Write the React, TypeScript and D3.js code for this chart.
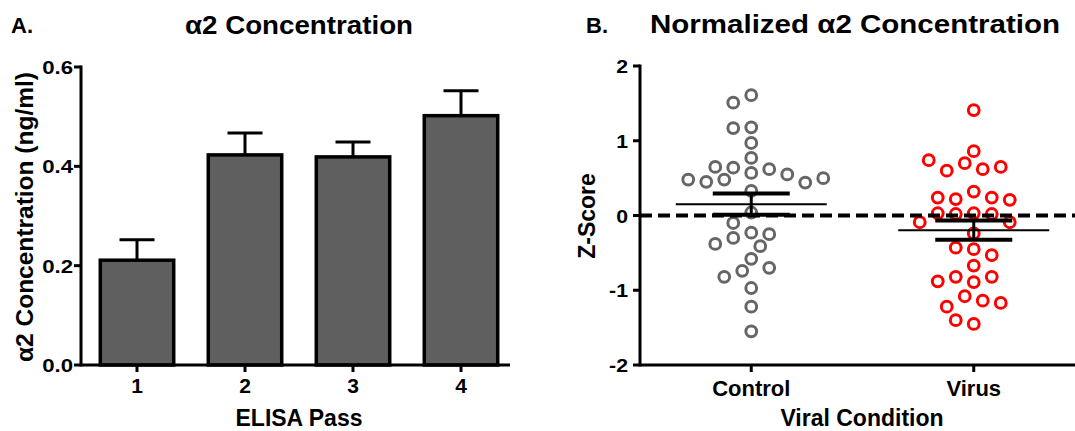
import React from "react";
import * as d3 from "d3";

// ---------- Data ----------
const passes = ["1", "2", "3", "4"];
const passMeans = [0.211, 0.423, 0.419, 0.502];
const passErr = [0.041, 0.044, 0.030, 0.050];
const concTicks = [0.0, 0.2, 0.4, 0.6];

const groups = ["Control", "Virus"];
const controlZ = [
  1.61, 1.51, 1.18, 1.17, 0.97, 0.77, 0.64, 0.62, 0.65, 0.57, 0.55, 0.48, 0.45,
  0.44, 0.48, 0.5, 0.33, 0.04, -0.1, -0.23, -0.3, -0.25, -0.41, -0.38, -0.58,
  -0.74, -0.7, -0.82, -0.97, -1.22, -1.55,
];
const virusZ = [
  1.41, 0.86, 0.7, 0.62, 0.6, 0.65, 0.74, 0.32, 0.22, 0.24, 0.24, 0.21, 0.03,
  0.02, 0.02, 0.03, -0.09, -0.09, -0.24, -0.45, -0.43, -0.53, -0.67, -0.82,
  -0.82, -0.89, -0.88, -1.08, -1.14, -1.22, -1.17, -1.45, -1.4,
];
const zTicks = [2, 1, 0, -1, -2];

const FONT = "'Liberation Sans', Arial, Helvetica, sans-serif";
const groupColors = ["#666666", "#ff0000"];

function swarm(values: number[], y: (v: number) => number, step = 9, minDist = 14.5) {
  const placed: { x: number; y: number }[] = [];
  return values.map((v) => {
    const yy = y(v);
    for (let k = 0; k < 40; k++) {
      const offs = k === 0 ? [0] : [-k * step, k * step];
      for (const o of offs) {
        if (placed.every((p) => Math.hypot(p.x - o, p.y - yy) >= minDist)) {
          const pt = { x: o, y: yy };
          placed.push(pt);
          return pt;
        }
      }
    }
    return { x: 0, y: yy };
  });
}

export default function App() {
  // ----- Panel A scales -----
  const xA = d3.scaleBand<string>().domain(passes).range([83, 515]).paddingInner(0.32).paddingOuter(0.16);
  const yA = d3.scaleLinear().domain([0, 0.6]).range([365, 67]);
  const axisA = { x0: 81, x1: 510 };

  // ----- Panel B scales -----
  const xB = d3.scalePoint<string>().domain(groups).range([640, 1085]).padding(0.5);
  const yB = d3.scaleLinear().domain([-2, 2]).range([365, 66]);
  const dataB = [controlZ, virusZ];

  const stats = dataB.map((arr) => {
    const m = d3.mean(arr) as number;
    const sd = d3.deviation(arr) as number;
    return { mean: m, sem: sd / Math.sqrt(arr.length) };
  });

  const bw = xA.bandwidth();

  return (
    <svg
      width={1075}
      height={431}
      style={{ position: "absolute", left: 0, top: 0, background: "#fff" }}
      fontFamily={FONT}
      fontWeight="bold"
    >
      {/* ================= Panel A ================= */}
      <text x={11} y={33} fontSize={22}>A.</text>
      <text x={299} y={34} fontSize={26} textAnchor="middle" textLength={228} lengthAdjust="spacingAndGlyphs">
        α2 Concentration
      </text>

      {passes.map((p, i) => {
        const x = xA(p) as number;
        const cx = x + bw / 2;
        const top = yA(passMeans[i]);
        const et = yA(passMeans[i] + passErr[i]);
        return (
          <g key={p}>
            <line x1={cx} x2={cx} y1={top} y2={et} stroke="#000" strokeWidth={3} />
            <line x1={cx - 17.5} x2={cx + 17.5} y1={et} y2={et} stroke="#000" strokeWidth={3} />
            <rect
              x={x}
              y={top}
              width={bw}
              height={yA(0) - top}
              fill="#5f5f5f"
              stroke="#000"
              strokeWidth={3.5}
            />
          </g>
        );
      })}

      {/* y axis A */}
      <line x1={axisA.x0} x2={axisA.x0} y1={yA(0.6) - 1.5} y2={yA(0) + 1.5} stroke="#000" strokeWidth={3} />
      {concTicks.map((t) => (
        <g key={t}>
          <line x1={axisA.x0 - 7} x2={axisA.x0} y1={yA(t)} y2={yA(t)} stroke="#000" strokeWidth={3} />
          <text
            transform={`translate(${axisA.x0 - 8},${yA(t) + 7}) scale(1.2,1)`}
            fontSize={18.5}
            textAnchor="end"
          >
            {d3.format(".1f")(t)}
          </text>
        </g>
      ))}
      {/* x axis A */}
      <line x1={axisA.x0} x2={axisA.x1} y1={yA(0)} y2={yA(0)} stroke="#000" strokeWidth={3} />
      {passes.map((p) => {
        const cx = (xA(p) as number) + bw / 2;
        return (
          <g key={p}>
            <line x1={cx} x2={cx} y1={yA(0)} y2={yA(0) + 7} stroke="#000" strokeWidth={3} />
            <text x={cx} y={393} fontSize={21} textAnchor="middle">{p}</text>
          </g>
        );
      })}
      <text x={299} y={426} fontSize={23} textAnchor="middle">ELISA Pass</text>
      <text transform="translate(33,217) rotate(-90)" fontSize={23} textAnchor="middle" textLength={290} lengthAdjust="spacingAndGlyphs">
        α2 Concentration (ng/ml)
      </text>

      {/* ================= Panel B ================= */}
      <text x={586} y={33} fontSize={22}>B.</text>
      <text x={855} y={33} fontSize={26} textAnchor="middle" textLength={410} lengthAdjust="spacingAndGlyphs">
        Normalized α2 Concentration
      </text>

      {/* points */}
      {dataB.map((arr, gi) => {
        const cx = xB(groups[gi]) as number;
        const pts = swarm(arr, (v) => yB(v));
        return (
          <g key={gi}>
            {pts.map((p, i) => (
              <circle
                key={i}
                cx={cx + p.x}
                cy={p.y}
                r={5.4}
                fill="none"
                stroke={groupColors[gi]}
                strokeWidth={3}
              />
            ))}
          </g>
        );
      })}

      {/* dashed zero line */}
      <line x1={640} x2={1075} y1={yB(0)} y2={yB(0)} stroke="#000" strokeWidth={4} strokeDasharray="12,6" />

      {/* mean +/- SEM */}
      {stats.map((s, gi) => {
        const cx = xB(groups[gi]) as number;
        const ym = yB(s.mean);
        const yu = yB(s.mean + s.sem);
        const yl = yB(s.mean - s.sem);
        return (
          <g key={gi}>
            <line x1={cx} x2={cx} y1={yu} y2={yl} stroke="#000" strokeWidth={3} />
            <line x1={cx - 38.5} x2={cx + 38.5} y1={yu} y2={yu} stroke="#000" strokeWidth={4} />
            <line x1={cx - 38.5} x2={cx + 38.5} y1={yl} y2={yl} stroke="#000" strokeWidth={4} />
            <line x1={cx - 75.5} x2={cx + 75.5} y1={ym} y2={ym} stroke="#000" strokeWidth={2} />
          </g>
        );
      })}

      {/* y axis B */}
      <line x1={640} x2={640} y1={yB(2) - 1.5} y2={yB(-2) + 1.5} stroke="#000" strokeWidth={3} />
      {zTicks.map((t) => (
        <g key={t}>
          <line x1={633} x2={640} y1={yB(t)} y2={yB(t)} stroke="#000" strokeWidth={3} />
          <text transform={`translate(628,${yB(t) + 7}) scale(1.15,1)`} fontSize={18.5} textAnchor="end">
            {t}
          </text>
        </g>
      ))}
      {/* x axis B */}
      <line x1={640} x2={1075} y1={yB(-2)} y2={yB(-2)} stroke="#000" strokeWidth={3} />
      {groups.map((g) => {
        const cx = xB(g) as number;
        return (
          <g key={g}>
            <line x1={cx} x2={cx} y1={yB(-2)} y2={yB(-2) + 7} stroke="#000" strokeWidth={3} />
            <text x={cx} y={396} fontSize={22} textAnchor="middle">{g}</text>
          </g>
        );
      })}
      <text x={862} y={426} fontSize={23} textAnchor="middle">Viral Condition</text>
      <text transform="translate(595,216) rotate(-90)" fontSize={23} textAnchor="middle">Z-Score</text>
    </svg>
  );
}
